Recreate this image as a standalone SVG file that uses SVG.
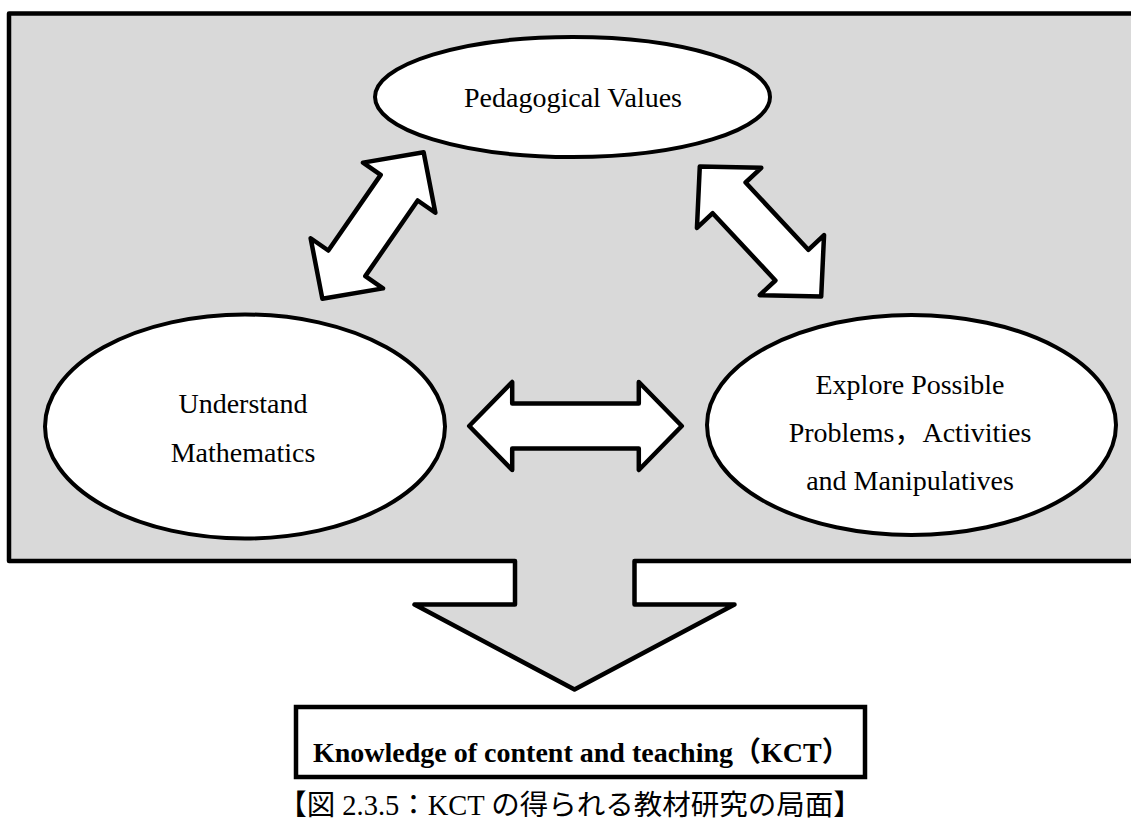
<svg xmlns="http://www.w3.org/2000/svg" width="1131" height="821" viewBox="0 0 1131 821">
  <style>
    .frame { fill: #d9d9d9; stroke: #000; stroke-width: 4.5; stroke-linejoin: round; }
    .node { fill: #fff; stroke: #000; stroke-width: 4; }
    .dbl { fill: #fff; stroke: #000; stroke-width: 4.5; stroke-linejoin: round; }
    .label { font-family: "Liberation Serif", "Noto Sans CJK JP", serif; font-size: 28px; fill: #000; text-anchor: middle; }
    .kct { font-family: "Liberation Serif", "Noto Sans CJK JP", serif; font-size: 28px; font-weight: bold; fill: #000; }
    .caption { font-family: "Liberation Serif", "Noto Sans CJK JP", serif; font-size: 28.5px; fill: #000; text-anchor: middle; }
  </style>
  <defs>
    <!-- double-headed block arrows, centred on the origin along the x axis -->
    <path id="dbl-long" d="M-106.3,0 L-63.3,-44 L-63.3,-22.5 L63.3,-22.5 L63.3,-44 L106.3,0 L63.3,44 L63.3,22.5 L-63.3,22.5 L-63.3,44 Z"/>
    <path id="dbl-short" d="M-89,0 L-46,-44 L-46,-22.5 L46,-22.5 L46,-44 L89,0 L46,44 L46,22.5 L-46,22.5 L-46,44 Z"/>
  </defs>

  <!-- grey panel whose lower edge opens into the downward block arrow -->
  <g id="frame">
    <path class="frame" d="M9,13.5 H1140 V561 H634.5 V604.5 H734.5 L574.5,689.5 L414.5,604.5 H515 V561 H9 Z"/>
  </g>

  <g id="connectors">
    <use href="#dbl-short" class="dbl" transform="translate(373,225.5) rotate(-55.3)"/>
    <use href="#dbl-short" class="dbl" transform="translate(760.5,231.5) rotate(47)"/>
    <use href="#dbl-long" class="dbl" transform="translate(575.5,426)"/>
  </g>

  <g id="pedagogical-values">
    <ellipse class="node" cx="572.5" cy="97" rx="197.5" ry="60"/>
    <text class="label" x="573" y="107">Pedagogical Values</text>
  </g>

  <g id="understand-mathematics">
    <ellipse class="node" cx="245" cy="426.5" rx="200" ry="112"/>
    <text class="label" x="243" y="412.5">Understand</text>
    <text class="label" x="243" y="462">Mathematics</text>
  </g>

  <g id="explore-problems">
    <ellipse class="node" cx="911.5" cy="425" rx="204.5" ry="110"/>
    <text class="label" x="910" y="394">Explore Possible</text>
    <text class="label" x="910" y="442">Problems，Activities</text>
    <text class="label" x="910" y="490">and Manipulatives</text>
  </g>

  <g id="kct">
    <rect x="296" y="707" width="569" height="70" fill="#fff" stroke="#000" stroke-width="4.5"/>
    <text class="kct" x="313" y="762">Knowledge of content and teaching（KCT）</text>
  </g>

  <g id="caption">
    <text class="caption" x="570" y="815">【図 2.3.5：KCT の得られる教材研究の局面】</text>
  </g>
</svg>
